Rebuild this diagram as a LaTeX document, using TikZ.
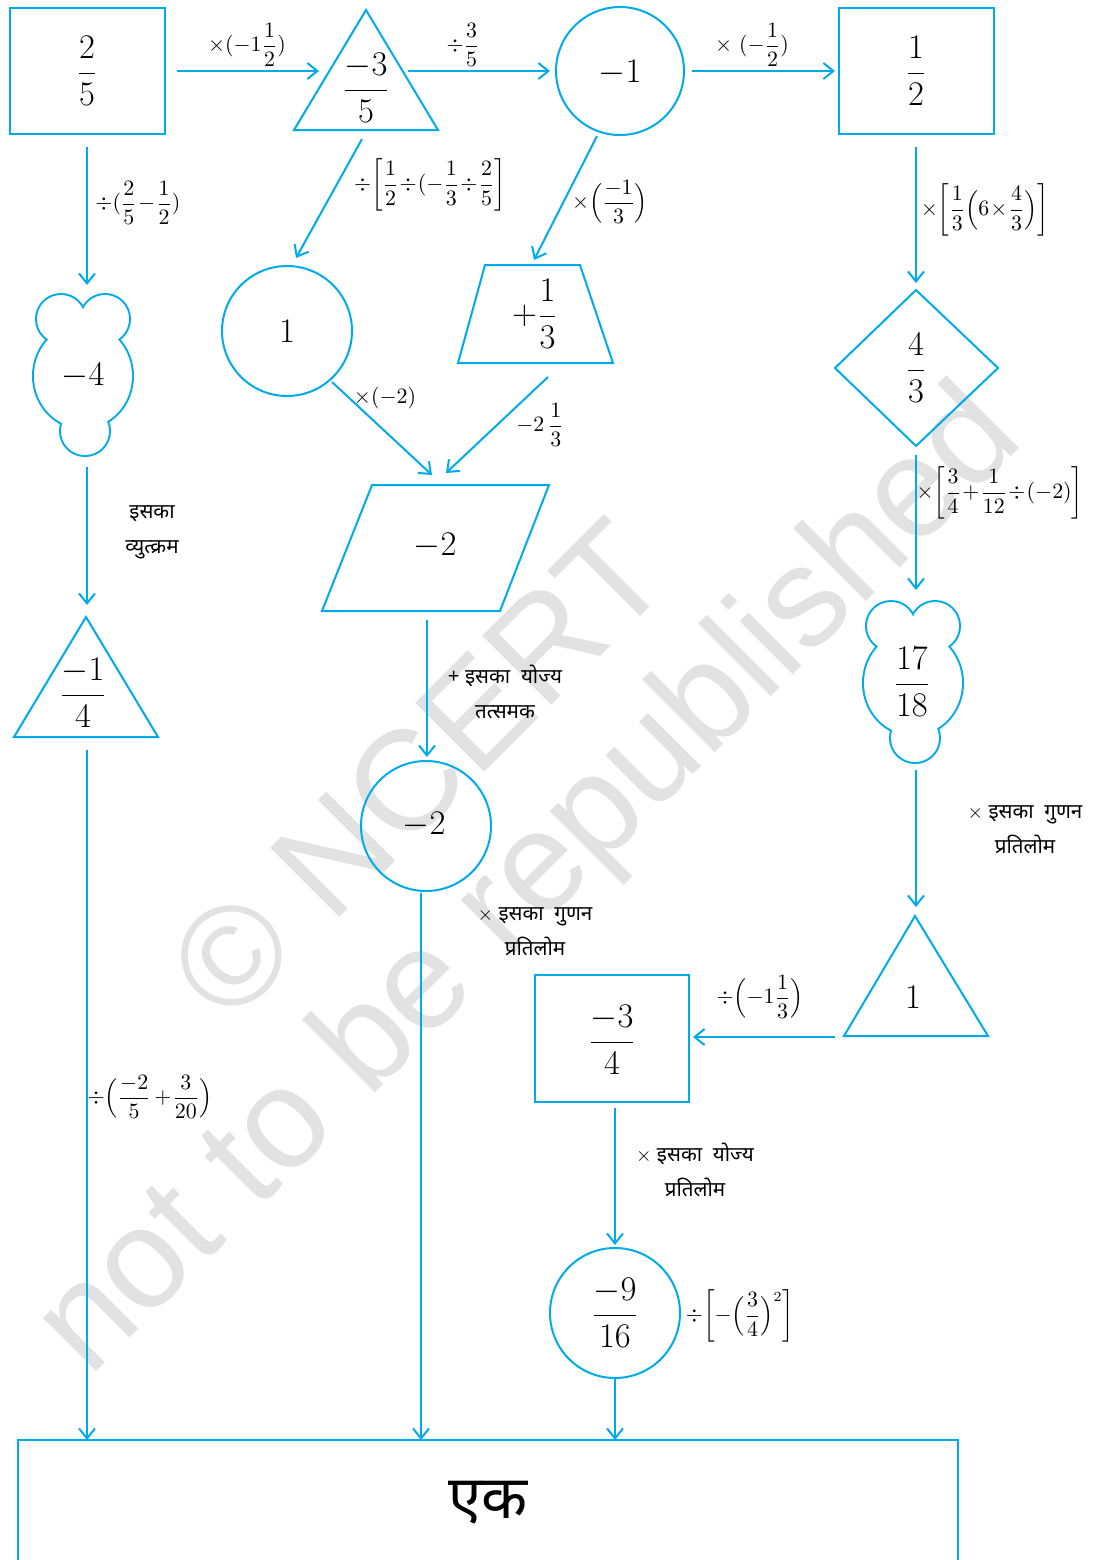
\documentclass[tikz,border=0pt]{standalone}
\usepackage{fontspec}
\usepackage{amsmath}
\newfontfamily\dev[Script=Devanagari]{Noto Sans}
\newfontfamily\wmfont{Liberation Sans}
\usetikzlibrary{arrows.meta}
\definecolor{cy}{RGB}{0,170,235}
\definecolor{wm}{RGB}{226,226,226}
\medmuskip=1mu\relax
\thickmuskip=2mu\relax
\newcommand\mycloudpath{(61,319) circle[radius=24] (105,319) circle[radius=24] (83,376) ellipse[x radius=49,y radius=52] (85,431) circle[radius=24]}
\begin{document}
\begin{tikzpicture}[x=0.5pt,y=-0.5pt,
  shp/.style={draw=cy, line width=1pt},
  arr/.style={draw=cy, line width=1pt, -{Straight Barb[length=5pt,width=8pt,line width=1pt]}},
  big/.style={font=\fontsize{17.5}{21}\selectfont, inner sep=0pt},
  lab/.style={font=\fontsize{10.5}{12}\selectfont, inner sep=1pt},
  dlab/.style={font=\dev\fontsize{10.3}{17.5}\selectfont, inner sep=1pt, align=center},
  wmark/.style={text=wm, font=\wmfont\fontsize{71}{71}\selectfont, rotate=45, inner sep=0pt}]
\useasboundingbox (0,0) rectangle (1094,1560);
% watermark
\node[wmark] (wm1) at (418,770) {\textcopyright\ NCERT};
\node[wmark] (wm2) at (532,884) {not to be republished};
% shapes
\draw[shp] (10,8) rectangle (165,134);
\draw[shp] (366,10) -- (438,130) -- (294,130) -- cycle;
\draw[shp] (620,71) circle[radius=64];
\draw[shp] (839,8) rectangle (994,134);
\draw[cy, line width=2pt] \mycloudpath;
\fill[white] \mycloudpath;
\draw[shp] (287,331) circle[radius=65];
\draw[shp] (485,265) -- (580,265) -- (613,363) -- (458,363) -- cycle;
\draw[shp] (916,290) -- (998,368) -- (916,446) -- (835,368) -- cycle;
\draw[shp] (86,617) -- (158,737) -- (14,737) -- cycle;
\draw[shp] (372,485) -- (549,485) -- (500,611) -- (322,611) -- cycle;
\begin{scope}[shift={(830,307)}]
\draw[cy, line width=2pt] \mycloudpath;
\fill[white] \mycloudpath;
\end{scope}
\draw[shp] (426,826) circle[radius=65];
\draw[shp] (915,916) -- (988,1036) -- (844,1036) -- cycle;
\draw[shp] (535,975) rectangle (689,1102);
\draw[shp] (615,1313) circle[radius=65];
\draw[shp] (18,1560) -- (18,1440) -- (958,1440) -- (958,1560);
% node texts
\node[big] (n25) at (87,71) {$\displaystyle\frac{2}{5}$};
\node[big] (nm35) at (366,88) {$\displaystyle\frac{-3}{5}$};
\node[big] (nm1) at (620,73) {$-1$};
\node[big] (n12) at (916,71) {$\displaystyle\frac{1}{2}$};
\node[big] (nm4) at (83,376) {$-4$};
\node[big] (n1) at (287,331) {$1$};
\node[big] (np13) at (535,314) {$+\displaystyle\frac{1}{3}$};
\node[big] (n43) at (916,368) {$\displaystyle\frac{4}{3}$};
\node[big] (nm2a) at (435,546) {$-2$};
\node[big] (nm14) at (83,693) {$\displaystyle\frac{-1}{4}$};
\node[big] (n1718) at (912,682) {$\displaystyle\frac{17}{18}$};
\node[big] (nm2b) at (424,825) {$-2$};
\node[big] (none) at (913,997) {$1$};
\node[big] (nm34) at (612,1040) {$\displaystyle\frac{-3}{4}$};
\node[big] (nm916) at (615,1313) {$\displaystyle\frac{-9}{16}$};
\node[font=\dev\fontsize{30}{34}\selectfont] (nek) at (488,1503) {एक};
% connector end points
\coordinate (a1s) at (177,71);  \coordinate (a1e) at (319,71);
\coordinate (a2s) at (408,71);  \coordinate (a2e) at (550,71);
\coordinate (a3s) at (692,71);  \coordinate (a3e) at (835,71);
\coordinate (b1s) at (87,147);  \coordinate (b1e) at (87,285);
\coordinate (b2s) at (87,467);  \coordinate (b2e) at (87,605);
\coordinate (b3s) at (87,750);  \coordinate (b3e) at (87,1440);
\coordinate (c1s) at (362,139); \coordinate (c1e) at (296,258);
\coordinate (c2s) at (597,136); \coordinate (c2e) at (534,260);
\coordinate (c3s) at (332,382); \coordinate (c3e) at (432,475);
\coordinate (c4s) at (548,377); \coordinate (c4e) at (446,473);
\coordinate (c5s) at (427,620); \coordinate (c5e) at (427,757);
\coordinate (c6s) at (421,893); \coordinate (c6e) at (421,1440);
\coordinate (d1s) at (916,147); \coordinate (d1e) at (916,283);
\coordinate (d2s) at (916,455); \coordinate (d2e) at (916,590);
\coordinate (d3s) at (916,770); \coordinate (d3e) at (916,907);
\coordinate (d4s) at (835,1037); \coordinate (d4e) at (693,1037);
\coordinate (d5s) at (615,1108); \coordinate (d5e) at (615,1245);
\coordinate (d6s) at (615,1377); \coordinate (d6e) at (615,1440);
% connectors
\foreach \p in {a1,a2,a3,b1,b2,b3,c1,c2,c3,c4,c5,c6,d1,d2,d3,d4,d5,d6}
  \draw[arr] (\p s) -- (\p e);
% math labels
\node[lab] (l1) at (247,45) {$\times(-1\displaystyle\frac{1}{2})$};
\node[lab] (l2) at (463,45) {$\div\displaystyle\frac{3}{5}$};
\node[lab] (l3) at (752,45) {$\times\ (-\displaystyle\frac{1}{2})$};
\node[lab] (l4) at (138,203) {$\div(\displaystyle\frac{2}{5}-\frac{1}{2})$};
\node[lab] (l5) at (430,185) {$\div\biggl[\displaystyle\frac{1}{2}\div(-\frac{1}{3}\div\frac{2}{5}\biggr]$};
\node[lab] (l6) at (610,202) {$\times\Bigl(\displaystyle\frac{-1}{3}\Bigr)$};
\node[lab] (l7) at (985,210) {$\times\biggl[\displaystyle\frac{1}{3}\Bigl(6\times\frac{4}{3}\Bigr)\biggr]$};
\node[lab] (l8) at (1000,493) {$\times\biggl[\displaystyle\frac{3}{4}+\frac{1}{12}\div(-2)\biggr]$};
\node[lab] (l9) at (385,398) {$\times(-2)$};
\node[lab] (l10) at (540,425) {$-2\,\displaystyle\frac{1}{3}$};
\node[lab] (l11) at (760,997) {$\div\Bigl(-1\displaystyle\frac{1}{3}\Bigr)$};
\node[lab] (l12) at (740,1316) {$\div\biggl[-\Bigl(\displaystyle\frac{3}{4}\Bigr)^{2}\biggr]$};
\node[lab] (l13) at (150,1097) {$\div\Bigl(\displaystyle\frac{-2}{5}\;+\frac{3}{20}\Bigr)$};
% Devanagari labels
\node[dlab] (t1) at (152,532) {इसका\\व्युत्क्रम};
\node[dlab] (t2) at (505,692) {+ इसका\ \ योज्य\\तत्समक};
\node[dlab] (t3) at (535,932) {$\times$ इसका\ \ गुणन\\प्रतिलोम};
\node[dlab] (t4) at (1025,830) {$\times$ इसका\ \ गुणन\\प्रतिलोम};
\node[dlab] (t5) at (695,1170) {$\times$ इसका\ \ योज्य\\प्रतिलोम};
\end{tikzpicture}
\end{document}
